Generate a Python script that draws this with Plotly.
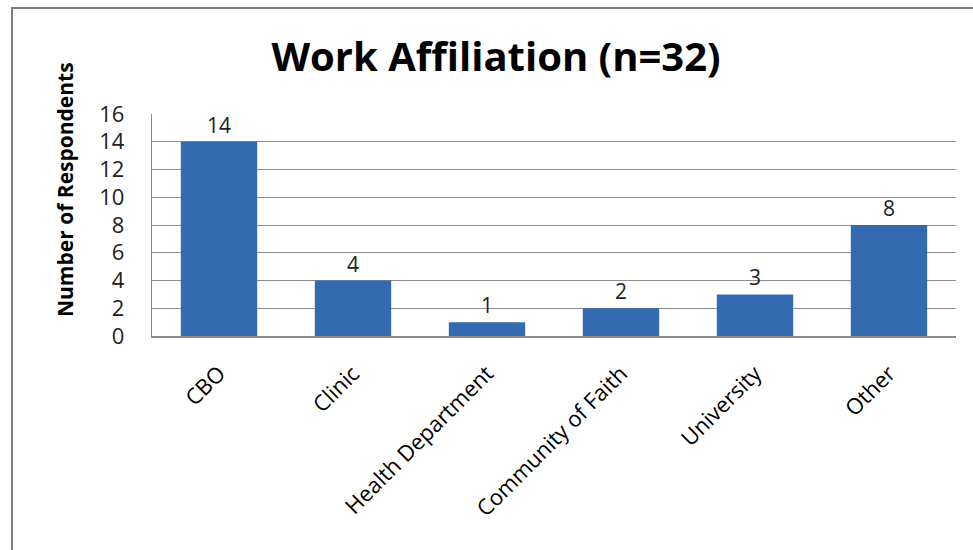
import plotly.graph_objects as go

categories = ["CBO", "Clinic", "Health Department", "Community of Faith", "University", "Other"]
values = [14, 4, 1, 2, 3, 8]
y_ticks = [0, 2, 4, 6, 8, 10, 12, 14, 16]

title_text = "Work Af\u200cf\u200ciliation (n=32)"
y_title = "Number of Respondents"

FONT = "Open Sans"
BAR = "#346AAF"
GRID = "#8C8C8C"

fig = go.Figure(
    go.Bar(
        x=categories,
        y=values,
        marker=dict(color=BAR, line=dict(width=0)),
        text=[str(v) for v in values],
        textposition="outside",
        textfont=dict(family=FONT, size=21, color="#222222"),
        cliponaxis=False,
        width=0.57,
    )
)

L, R, T, B = 152, 17, 114, 214
W, H = 973, 550
pw, ph = W - L - R, H - T - B

fig.update_layout(
    width=W,
    height=H,
    margin=dict(l=L, r=R, t=T, b=B, pad=0),
    paper_bgcolor="white",
    plot_bgcolor="white",
    showlegend=False,
    title=dict(
        text="<b>" + title_text + "</b>",
        x=496 / W,
        xanchor="center",
        xref="container",
        y=1 - 57 / H,
        yref="container",
        yanchor="middle",
        font=dict(family=FONT, size=40, color="black"),
    ),
    xaxis=dict(
        tickangle=-45,
        tickfont=dict(family=FONT, size=22, color="black"),
        showline=True,
        linecolor=GRID,
        linewidth=2,
        showgrid=False,
        ticks="",
        ticklabelstandoff=14,
    ),
    yaxis=dict(
        range=[0, 16],
        tickvals=y_ticks,
        tickfont=dict(family=FONT, size=22, color="#222222"),
        showgrid=True,
        gridcolor=GRID,
        gridwidth=1.3,
        showline=True,
        linecolor=GRID,
        linewidth=1.3,
        ticks="",
        zeroline=False,
        ticklabelstandoff=22,
    ),
    annotations=[
        dict(
            text="<b>" + y_title + "</b>",
            xref="paper",
            yref="paper",
            x=(65 - L) / pw,
            y=(H - B - 190) / ph,
            textangle=-90,
            showarrow=False,
            xanchor="center",
            yanchor="middle",
            font=dict(family=FONT, size=21, color="black"),
        )
    ],
    shapes=[
        dict(
            type="rect",
            xref="paper",
            yref="paper",
            x0=(12 - L) / pw,
            x1=(W + 5 - L) / pw,
            y0=-(H + 5 - (H - B)) / ph,
            y1=1 + (T - 8) / ph,
            line=dict(color="#7F7F7F", width=2),
            fillcolor="rgba(0,0,0,0)",
            layer="below",
        )
    ],
)

fig.write_html(
    "out.html",
    config={"displayModeBar": False},
    post_script="document.body.style.margin='0';document.body.style.overflow='hidden';",
)
